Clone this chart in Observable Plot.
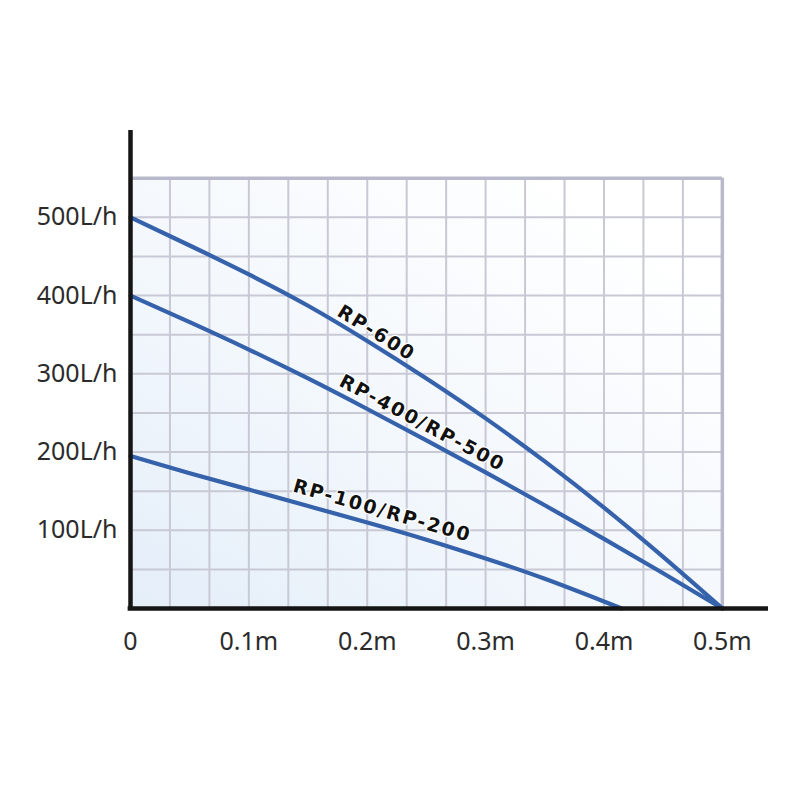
<!DOCTYPE html>
<html>
<head>
<meta charset="utf-8">
<script src="https://cdn.jsdelivr.net/npm/d3@7"></script>
<script src="https://cdn.jsdelivr.net/npm/@observablehq/plot@0.6"></script>
<style>
  html, body { margin: 0; padding: 0; background: #ffffff; }
  #chart { width: 800px; height: 800px; overflow: hidden; }
</style>
</head>
<body>
<div id="chart"></div>
<script>
// ---- data ----
const headM = [0, 0.05, 0.1, 0.15, 0.2, 0.25, 0.3, 0.35, 0.4, 0.45, 0.5];
const flowRP600 = [500, 464, 427, 387, 342, 294, 243, 188, 129, 66, 0];
const flowRP400 = [400, 366, 331, 294, 255, 215, 174, 132, 89, 45, 0];
const headM100 = [0, 0.05, 0.1, 0.15, 0.2, 0.25, 0.3, 0.35, 0.4, 0.415];
const flowRP100 = [195, 173, 152, 131, 110, 88, 64, 38, 9, 0];

const xTicks = [0, 0.1, 0.2, 0.3, 0.4, 0.5];
const xTickLabels = ["0", "0.1m", "0.2m", "0.3m", "0.4m", "0.5m"];
const yTicks = [100, 200, 300, 400, 500];
const yTickLabels = ["100L/h", "200L/h", "300L/h", "400L/h", "500L/h"];

const gridXMax = 0.5, gridYMax = 550;
const gridX = d3.range(1, 16).map(k => k / 30);        // vertical grid every 1/30 m
const gridY = d3.range(1, 12).map(k => k * 50);        // horizontal grid every 50 L/h
const axisXMax = 0.539, axisYMax = 611;

const curveLabels = [
  {text: "RP-600", x: 0.2078, y: 352, angle: 32},
  {text: "RP-400/RP-500", x: 0.2466, y: 237, angle: 28},
  {text: "RP-100/RP-200", x: 0.2128, y: 125, angle: 16}
];

// ---- build table ----
const series = [
  ...headM.map((x, i) => ({name: "RP-600", x, y: flowRP600[i]})),
  ...headM.map((x, i) => ({name: "RP-400/RP-500", x, y: flowRP400[i]})),
  ...headM100.map((x, i) => ({name: "RP-100/RP-200", x, y: flowRP100[i]}))
];

const blue = "#3562ab";
const gridColor = "#c8c9d5";

const chart = Plot.plot({
  width: 800,
  height: 700,
  marginLeft: 130,
  marginRight: 32,
  marginTop: 130,
  marginBottom: 92,
  x: {domain: [0, axisXMax], axis: null},
  y: {domain: [0, axisYMax], axis: null},
  style: {fontFamily: "'Noto Sans', sans-serif", fontSize: "25px", background: "transparent", overflow: "visible"},
  marks: [
    Plot.rect([{}], {x1: 0, x2: gridXMax, y1: 0, y2: gridYMax, fill: "url(#bgGrad)"}),
    Plot.ruleX(gridX, {y1: 0, y2: gridYMax, stroke: gridColor, strokeWidth: 2}),
    Plot.ruleY(gridY, {x1: 0, x2: gridXMax, stroke: gridColor, strokeWidth: 2}),
    Plot.ruleX([gridXMax], {y1: 0, y2: gridYMax, stroke: "#b8b9cb", strokeWidth: 3.5}),
    Plot.ruleY([gridYMax], {x1: 0, x2: gridXMax, stroke: "#b8b9cb", strokeWidth: 3.5}),
    Plot.line(series, {x: "x", y: "y", z: "name", stroke: blue, strokeWidth: 4.2, curve: "natural"}),
    Plot.ruleX([0], {y1: 0, y2: axisYMax, stroke: "#151515", strokeWidth: 4.5}),
    Plot.ruleY([0], {x1: -0.002, x2: axisXMax, stroke: "#151515", strokeWidth: 4.5}),
    Plot.axisX(xTicks, {tickSize: 0, tickPadding: 24, tickFormat: (d, i) => xTickLabels[i], fill: "#2b2b2b", fontSize: 25, label: null}),
    Plot.axisY(yTicks, {tickSize: 0, tickPadding: 13, tickFormat: (d, i) => yTickLabels[i], fill: "#2b2b2b", fontSize: 25, label: null}),
    Plot.text(curveLabels, {
      x: "x", y: "y", text: "text", rotate: "angle",
      fontFamily: "'DejaVu Sans', sans-serif", fontWeight: "bold", fontSize: 19,
      fill: "#111", stroke: "white", strokeWidth: 2.5, textAnchor: "middle", lineAnchor: "middle"
    })
  ]
});

// gradient for the light-blue tint inside the grid
const svg = d3.select(chart);
const defs = svg.insert("defs", ":first-child");
const grad = defs.append("linearGradient")
  .attr("id", "bgGrad")
  .attr("x1", "0").attr("y1", "1").attr("x2", "0.85").attr("y2", "0.1");
grad.append("stop").attr("offset", "0").attr("stop-color", "#e4eef9");
grad.append("stop").attr("offset", "0.45").attr("stop-color", "#f2f7fc");
grad.append("stop").attr("offset", "1").attr("stop-color", "#ffffff");
svg.selectAll("g[aria-label='text'] text").attr("letter-spacing", "2px").attr("paint-order", "stroke");

document.getElementById("chart").appendChild(chart);
</script>
</body>
</html>
